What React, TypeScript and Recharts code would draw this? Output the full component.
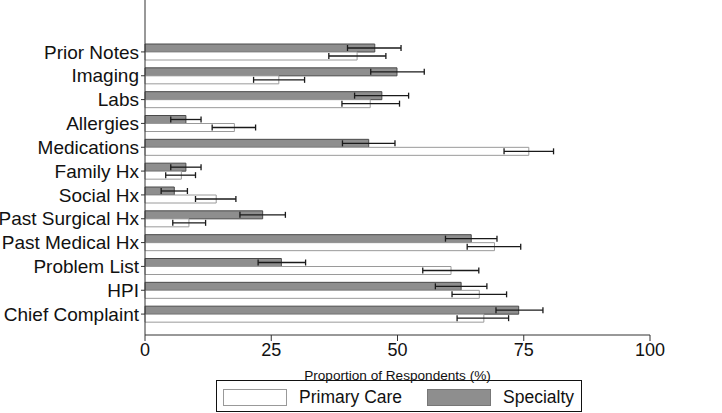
import { BarChart, Bar, XAxis, YAxis, ErrorBar } from 'recharts';

const categories = [
  'Prior Notes',
  'Imaging',
  'Labs',
  'Allergies',
  'Medications',
  'Family Hx',
  'Social Hx',
  'Past Surgical Hx',
  'Past Medical Hx',
  'Problem List',
  'HPI',
  'Chief Complaint',
];

const specialty = [45.5, 49.9, 46.9, 8.1, 44.3, 8.1, 5.8, 23.3, 64.6, 27.0, 62.6, 74.0];
const specialtyLow = [40.1, 44.7, 41.5, 5.1, 39.1, 5.1, 3.2, 18.8, 59.5, 22.4, 57.5, 69.5];
const specialtyHigh = [50.7, 55.3, 52.2, 11.1, 49.5, 11.1, 8.4, 27.8, 69.7, 31.8, 67.7, 78.8];

const primary = [42.0, 26.5, 44.6, 17.7, 76.0, 7.2, 14.1, 8.7, 69.2, 60.6, 66.2, 67.1];
const primaryLow = [36.4, 21.5, 39.0, 13.3, 71.1, 4.1, 10.0, 5.5, 63.8, 55.0, 60.8, 61.8];
const primaryHigh = [47.7, 31.6, 50.4, 21.9, 80.9, 10.0, 18.0, 12.0, 74.4, 66.1, 71.6, 72.0];

const xTicks = [0, 25, 50, 75, 100];

const FONT = '"Liberation Sans", Arial, sans-serif';

const chartData = categories.map((name, i) => ({
  name,
  specialty: specialty[i],
  specialtyErr: [specialty[i] - specialtyLow[i], specialtyHigh[i] - specialty[i]],
  primary: primary[i],
  primaryErr: [primary[i] - primaryLow[i], primaryHigh[i] - primary[i]],
}));

function LegendBox() {
  return (
    <div
      style={{
        position: 'absolute',
        left: 216,
        top: 380,
        width: 366,
        height: 32,
        border: '1px solid #111',
        boxSizing: 'border-box',
        fontFamily: FONT,
        fontSize: 17.5,
        color: '#111',
      }}
    >
      {/* primary care swatch */}
      <div
        style={{
          position: 'absolute',
          left: 6,
          top: 8,
          width: 64,
          height: 17,
          border: '1px solid #999',
          background: '#fff',
          boxSizing: 'border-box',
        }}
      />
      <span style={{ position: 'absolute', left: 82, top: 6 }}>Primary Care</span>
      {/* specialty swatch */}
      <div
        style={{
          position: 'absolute',
          left: 210,
          top: 8,
          width: 64,
          height: 17,
          border: '1px solid #777',
          background: '#8e8e8e',
          boxSizing: 'border-box',
        }}
      />
      <span style={{ position: 'absolute', left: 286, top: 6 }}>Specialty</span>
    </div>
  );
}

export default function App() {
  return (
    <div style={{ position: 'absolute', left: 0, top: 0, width: 722, height: 413, background: '#fff' }}>
      <BarChart
        width={722}
        height={413}
        data={chartData}
        layout="vertical"
        margin={{ top: 0, right: 72, bottom: 33, left: 0 }}
        barSize={8}
        barGap={0}
      >
        <XAxis
          type="number"
          domain={[0, 100]}
          ticks={xTicks}
          height={45}
          tickSize={6}
          tick={{ fontSize: 18, fill: '#111', fontFamily: FONT }}
          stroke="#333"
          label={{
            value: 'Proportion of Respondents (%)',
            position: 'insideBottom',
            offset: 0,
            style: { fontSize: 13.6, fill: '#111', fontFamily: FONT },
          }}
        />
        <YAxis
          type="category"
          dataKey="name"
          width={145}
          tickSize={4}
          interval={0}
          padding={{ top: 40, bottom: 9 }}
          tick={{ fontSize: 19, fill: '#111', fontFamily: FONT }}
          stroke="#333"
        />
        <Bar dataKey="specialty" fill="#8e8e8e" stroke="#4a4a4a" strokeWidth={1} isAnimationActive={false}>
          <ErrorBar dataKey="specialtyErr" direction="x" width={3} stroke="#1a1a1a" strokeWidth={1.3} />
        </Bar>
        <Bar dataKey="primary" fill="#ffffff" stroke="#9a9a9a" strokeWidth={1} isAnimationActive={false}>
          <ErrorBar dataKey="primaryErr" direction="x" width={3} stroke="#1a1a1a" strokeWidth={1.3} />
        </Bar>
      </BarChart>
      <LegendBox />
    </div>
  );
}
